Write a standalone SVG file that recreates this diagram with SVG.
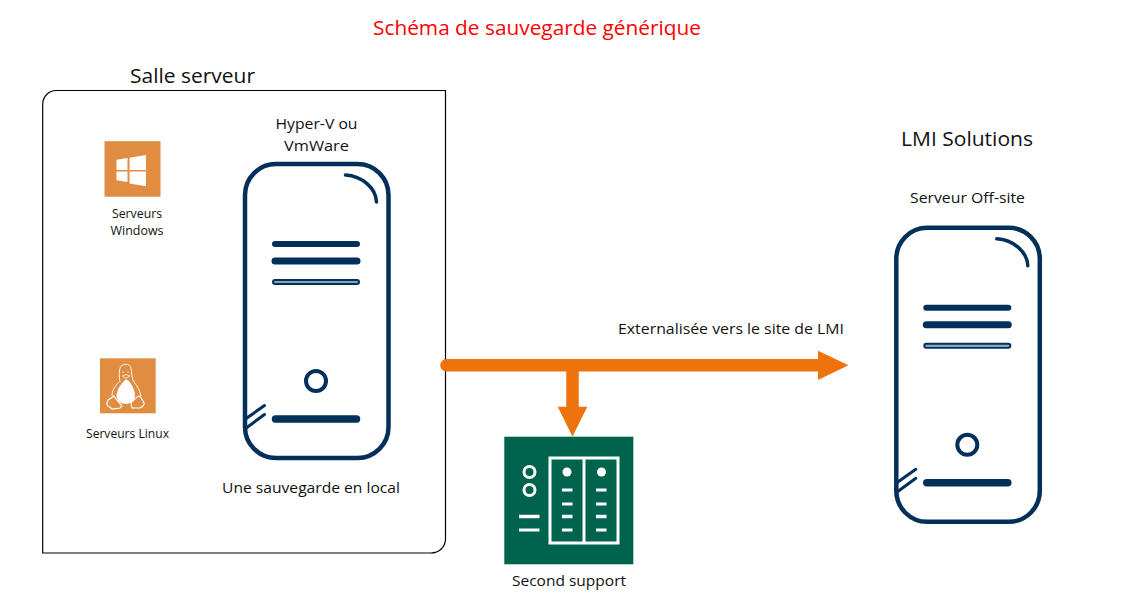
<svg xmlns="http://www.w3.org/2000/svg" xmlns:xlink="http://www.w3.org/1999/xlink" width="1126" height="598" viewBox="0 0 1126 598">
<style>
text{font-family:"Open Sans","Noto Sans","Liberation Sans",sans-serif;fill:#111}
.nv{fill:none;stroke:#03305a;stroke-linecap:round}
.wl{fill:none;stroke:#fff}
.wf{fill:#fff}
</style>
<defs>
<g id="server">
<rect class="nv" x="245" y="164" width="143.500" height="294" rx="31" stroke-width="4.500"/>
<path class="nv" d="M345.500 175C362 176 376 188 376.500 202" stroke-width="3.500"/>
<path class="nv" d="M275 244H357" stroke-width="6"/>
<path class="nv" d="M275 261H357" stroke-width="7"/>
<path class="nv" d="M275 282H357" stroke-width="6"/>
<path d="M275 282H357" stroke="#8aa3b8" stroke-width="2.200" stroke-linecap="round"/>
<circle class="nv" cx="316" cy="381" r="10" stroke-width="4"/>
<path class="nv" d="M275.500 419H356.500" stroke-width="7.500"/>
<path class="nv" d="M245.500 419L264.500 405.500M245.500 428.500L264.500 414.500" stroke-width="3"/>
</g>
</defs>
<text x="373" y="35" font-size="20" style="fill:#ff0000" textLength="328" lengthAdjust="spacingAndGlyphs">Schéma de sauvegarde générique</text>

<g id="salle-serveur">
<path d="M56.500 90.500H445.500V539C445.500 547 439 553 431 553H42.700V104.500C42.700 96.500 48.500 90.500 56.500 90.500Z" fill="#fff" stroke="#000" stroke-width="1.200"/>
<text x="130" y="83" font-size="20" textLength="125" lengthAdjust="spacingAndGlyphs">Salle serveur</text>
</g>

<g id="serveurs-windows">
<rect x="104.500" y="141.200" width="56" height="55.500" fill="#e08d42"/>
<path class="wf" d="M116.500 159.800L127.500 158V170H116.500ZM129.500 157.700L146 155V170H129.500ZM116.500 171.500H127.500V182L116.500 180.300ZM129.500 171.500H146V186.300L129.500 183.500Z"/>
<text x="137" y="218" font-size="12" text-anchor="middle" textLength="50" lengthAdjust="spacingAndGlyphs">Serveurs</text>
<text x="137" y="235" font-size="12" text-anchor="middle" textLength="53" lengthAdjust="spacingAndGlyphs">Windows</text>
</g>

<g id="serveurs-linux">
<rect x="100" y="358.300" width="55.700" height="55" fill="#e08d42"/>
<path class="wf" d="M124 381C120 385 117 390 116.500 396C117 401 121 404 126 404C131 404 135 400 135 395C135 390 132 385 129 381C127 379 125 379 124 381Z"/>
<path class="wl" stroke-width="0.900" d="M120 382C119 376 119 372 120 368C122 363 130 363 131 368C132 373 131 377 134 382C138 387 140 391 141 396M119 382C114 387 112 391 112 396"/>
<path class="wl" stroke-width="0.800" d="M123 371.500V373M128 371.500V373M122.500 376L126 374.500L129.500 376L126 378.500Z"/>
<path class="wl" stroke-width="1.200" d="M108 400L114 396C116 400 120 403 122 406L120 408L112 409C110 407 106 406 107 403ZM144 403L140 396C137 396 134 400 131 403L132 408L140 408C143 406 145 405 144 403Z"/>
<text x="127.500" y="438" font-size="12" text-anchor="middle" textLength="83" lengthAdjust="spacingAndGlyphs">Serveurs Linux</text>
</g>

<g id="hyper-v">
<use href="#server" xlink:href="#server"/>
<text x="316.500" y="129" font-size="14.500" text-anchor="middle" textLength="82" lengthAdjust="spacingAndGlyphs">Hyper-V ou</text>
<text x="316.500" y="151" font-size="14.500" text-anchor="middle" textLength="65" lengthAdjust="spacingAndGlyphs">VmWare</text>
<text x="311" y="493" font-size="14.500" text-anchor="middle" textLength="178" lengthAdjust="spacingAndGlyphs">Une sauvegarde en local</text>
</g>

<g id="lmi-solutions">
<use href="#server" xlink:href="#server" transform="translate(651.300 63.800)"/>
<text x="967" y="146" font-size="20" text-anchor="middle" textLength="132" lengthAdjust="spacingAndGlyphs">LMI Solutions</text>
<text x="967.500" y="203" font-size="14.500" text-anchor="middle" textLength="115" lengthAdjust="spacingAndGlyphs">Serveur Off-site</text>
</g>

<g id="second-support">
<rect x="504.300" y="436.700" width="129" height="127.600" fill="#00634d"/>
<rect class="wl" x="550" y="458" width="68" height="85" stroke-width="3"/>
<path class="wl" stroke-width="3" d="M584 458V543"/>
<circle class="wf" cx="567" cy="472" r="4.500"/>
<circle class="wf" cx="601.500" cy="472" r="4.500"/>
<circle class="wl" cx="529.500" cy="472" r="5.500" stroke-width="3"/>
<circle class="wl" cx="529.500" cy="490" r="5.500" stroke-width="3"/>
<path class="wl" stroke-width="3.500" d="M519 516.500H539.500"/>
<path class="wl" stroke-width="3" d="M519 530H539.500"/>
<path class="wl" stroke-width="3" d="M562 490H572.500M562 504H572.500M562 530H572.500M596 490H606.500M596 504H606.500M596 530H606.500"/>
<path class="wl" stroke-width="3.500" d="M562 516.500H572.500M596 516.500H606.500"/>
<text x="569" y="586" font-size="14.500" text-anchor="middle" textLength="114" lengthAdjust="spacingAndGlyphs">Second support</text>
</g>

<g id="connectors">
<path d="M446.500 365.300H819" stroke="#ee730d" stroke-width="12.500" stroke-linecap="round" fill="none"/>
<path d="M818 350.700L848.500 365.300L818 380Z" fill="#ee730d"/>
<path d="M572.500 365V407" stroke="#ee730d" stroke-width="12.500" fill="none"/>
<path d="M557.700 406.700H587.300L572.500 436.500Z" fill="#ee730d"/>
<text x="731" y="334" font-size="14.500" text-anchor="middle" textLength="226" lengthAdjust="spacingAndGlyphs">Externalisée vers le site de LMI</text>
</g>
</svg>
